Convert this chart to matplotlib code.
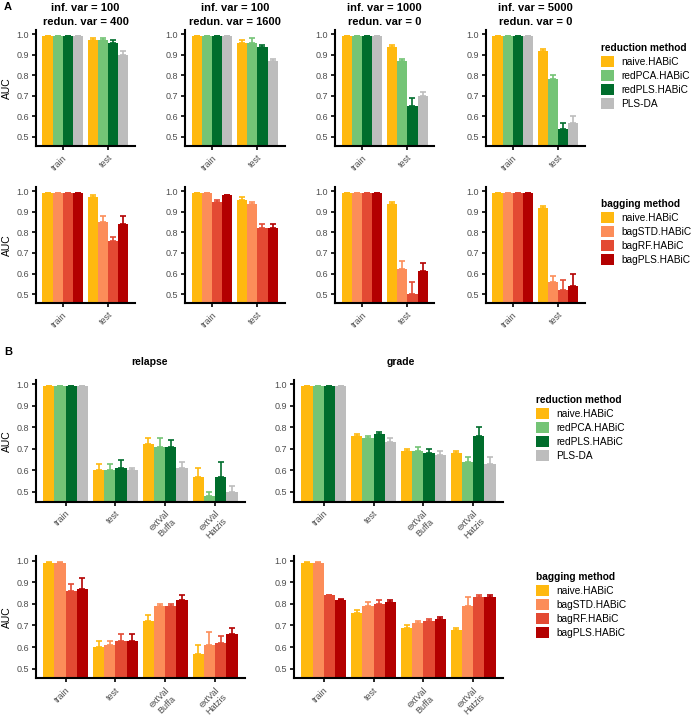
import numpy as np
import matplotlib
matplotlib.use('Agg')
import matplotlib.pyplot as plt
from matplotlib.patches import Patch

plt.rcParams['font.family'] = ['Liberation Sans', 'DejaVu Sans']

# ---- data ----
red_methods = ['naive.HABiC', 'redPCA.HABiC', 'redPLS.HABiC', 'PLS-DA']
bag_methods = ['naive.HABiC', 'bagSTD.HABiC', 'bagRF.HABiC', 'bagPLS.HABiC']
red_colors = ['#FFB90F', '#74C476', '#006D2C', '#BDBDBD']
bag_colors = ['#FFB90F', '#FC8D59', '#E34A33', '#B30000']

sim_titles = ['inf. var = 100\nredun. var = 400', 'inf. var = 100\nredun. var = 1600',
              'inf. var = 1000\nredun. var = 0', 'inf. var = 5000\nredun. var = 0']
sim_splits = ['train', 'test']
real_splits = ['train', 'test', 'extVal\nBuffa', 'extVal\nHatzis']

# simulation, reduction methods: [sim][method][split]
sim_red_auc = [
    [[0.99, 0.97], [0.99, 0.97], [0.99, 0.96], [0.99, 0.90]],
    [[0.99, 0.96], [0.99, 0.96], [0.99, 0.94], [0.99, 0.87]],
    [[0.99, 0.94], [0.99, 0.87], [0.99, 0.65], [0.99, 0.70]],
    [[0.99, 0.92], [0.99, 0.78], [0.99, 0.54], [0.99, 0.57]],
]
sim_red_err = [
    [[0.003, 0.01], [0.003, 0.01], [0.003, 0.01], [0.003, 0.02]],
    [[0.003, 0.01], [0.003, 0.02], [0.003, 0.01], [0.003, 0.01]],
    [[0.003, 0.01], [0.003, 0.01], [0.003, 0.04], [0.003, 0.02]],
    [[0.003, 0.01], [0.003, 0.02], [0.003, 0.03], [0.003, 0.03]],
]
# simulation, bagging methods
sim_bag_auc = [
    [[0.99, 0.97], [0.99, 0.85], [0.99, 0.76], [0.99, 0.84]],
    [[0.99, 0.96], [0.99, 0.94], [0.95, 0.82], [0.98, 0.82]],
    [[0.99, 0.94], [0.99, 0.62], [0.99, 0.50], [0.99, 0.61]],
    [[0.99, 0.92], [0.99, 0.56], [0.99, 0.52], [0.99, 0.54]],
]
sim_bag_err = [
    [[0.003, 0.01], [0.003, 0.03], [0.003, 0.02], [0.003, 0.04]],
    [[0.003, 0.01], [0.003, 0.01], [0.01, 0.02], [0.003, 0.02]],
    [[0.003, 0.01], [0.003, 0.04], [0.003, 0.06], [0.003, 0.04]],
    [[0.003, 0.01], [0.003, 0.03], [0.003, 0.05], [0.003, 0.06]],
]

# real data: [method][split]
relapse_red_auc = [[0.99, 0.60, 0.72, 0.57], [0.99, 0.60, 0.71, 0.48],
                   [0.99, 0.61, 0.71, 0.57], [0.99, 0.60, 0.61, 0.50]]
relapse_red_err = [[0.003, 0.03, 0.03, 0.04], [0.003, 0.03, 0.04, 0.02],
                   [0.003, 0.04, 0.03, 0.07], [0.003, 0.01, 0.03, 0.03]]
grade_red_auc = [[0.99, 0.76, 0.69, 0.68], [0.99, 0.75, 0.69, 0.64],
                 [0.99, 0.77, 0.68, 0.76], [0.99, 0.73, 0.67, 0.63]]
grade_red_err = [[0.003, 0.01, 0.01, 0.01], [0.003, 0.01, 0.02, 0.02],
                 [0.003, 0.01, 0.02, 0.04], [0.003, 0.02, 0.02, 0.03]]
relapse_bag_auc = [[0.99, 0.60, 0.72, 0.57], [0.99, 0.61, 0.79, 0.61],
                   [0.86, 0.63, 0.79, 0.62], [0.87, 0.63, 0.82, 0.66]]
relapse_bag_err = [[0.003, 0.03, 0.03, 0.04], [0.003, 0.02, 0.01, 0.06],
                   [0.03, 0.03, 0.01, 0.03], [0.05, 0.03, 0.02, 0.03]]
grade_bag_auc = [[0.99, 0.76, 0.69, 0.68], [0.99, 0.79, 0.71, 0.79],
                 [0.84, 0.80, 0.72, 0.83], [0.82, 0.81, 0.73, 0.83]]
grade_bag_err = [[0.003, 0.01, 0.01, 0.01], [0.003, 0.02, 0.01, 0.04],
                 [0.003, 0.02, 0.01, 0.01], [0.003, 0.01, 0.01, 0.01]]

W, H = 691, 720
fig = plt.figure(figsize=(W / 100, H / 100), dpi=100)
YLIM = (0.455, 1.02)


def add_ax(left, top, right, bottom):
    return fig.add_axes([left / W, 1 - bottom / H, (right - left) / W, (bottom - top) / H])


def bar_panel(ax, auc, err, colors, splits, ylabel=False):
    auc = np.array(auc)
    err = np.array(err)
    n = len(colors)
    x = np.arange(1, len(splits) + 1)
    bw = 0.9 / n
    for i in range(n):
        pos = x - 0.45 + bw * (i + 0.5)
        ax.bar(pos, auc[i], width=bw, color=colors[i], linewidth=0)
        ax.errorbar(pos, auc[i], yerr=[np.zeros(len(splits)), err[i]], fmt='none',
                    ecolor=colors[i], elinewidth=1.2, capsize=2, capthick=1.2)
    ax.set_xlim(0.4, len(splits) + 0.6)
    ax.set_ylim(*YLIM)
    ax.set_yticks([0.5, 0.6, 0.7, 0.8, 0.9, 1.0])
    ax.set_yticklabels(['0.5', '0.6', '0.7', '0.8', '0.9', '1.0'])
    ax.set_xticks(x)
    ax.set_xticklabels(splits, rotation=45, ha='right', rotation_mode='anchor',
                       multialignment='center')
    ax.tick_params(axis='both', labelsize=6.5, labelcolor='#4D4D4D', color='black',
                   width=1.2, length=3, pad=2)
    for s in ['top', 'right']:
        ax.spines[s].set_visible(False)
    for s in ['left', 'bottom']:
        ax.spines[s].set_linewidth(1.5)
    if ylabel:
        ax.set_ylabel('AUC', fontsize=7.5, labelpad=3)


def add_legend(x, y, title, labels, colors):
    handles = [Patch(facecolor=c, edgecolor='none') for c in colors]
    leg = fig.legend(handles, labels, loc='upper left', bbox_to_anchor=(x / W, 1 - y / H),
                     bbox_transform=fig.transFigure, frameon=False, fontsize=7.3,
                     title=title, title_fontproperties={'weight': 'bold', 'size': 7.3},
                     handlelength=1.3, handleheight=1.3, labelspacing=0.3,
                     handletextpad=0.7, borderaxespad=0, borderpad=0)
    leg._legend_box.align = 'left'


# ---- panel A ----
col_left = [35.7, 185, 335, 485.7]
for j in range(4):
    ax = add_ax(col_left[j], 30.2, col_left[j] + 99.5, 146.2)
    bar_panel(ax, sim_red_auc[j], sim_red_err[j], red_colors, sim_splits, ylabel=(j == 0))
    ax.set_title(sim_titles[j], fontsize=8, fontweight='bold', pad=4, linespacing=1.45)
    ax = add_ax(col_left[j], 187.2, col_left[j] + 99.5, 303.3)
    bar_panel(ax, sim_bag_auc[j], sim_bag_err[j], bag_colors, sim_splits, ylabel=(j == 0))

add_legend(601, 43, 'reduction method', red_methods, red_colors)
add_legend(601, 199, 'bagging method', bag_methods, bag_colors)

# ---- panel B ----
ax = add_ax(35.7, 379.7, 245, 501.7)
bar_panel(ax, relapse_red_auc, relapse_red_err, red_colors, real_splits, ylabel=True)
ax = add_ax(294, 379.7, 503, 501.7)
bar_panel(ax, grade_red_auc, grade_red_err, red_colors, real_splits)
ax = add_ax(35.7, 556.4, 245, 678.4)
bar_panel(ax, relapse_bag_auc, relapse_bag_err, bag_colors, real_splits, ylabel=True)
ax = add_ax(294, 556.4, 503, 678.4)
bar_panel(ax, grade_bag_auc, grade_bag_err, bag_colors, real_splits)

add_legend(536, 395, 'reduction method', red_methods, red_colors)
add_legend(536, 572, 'bagging method', bag_methods, bag_colors)

fig.text(150 / W, 1 - 362 / H, 'relapse', ha='center', va='center', fontsize=7.5, fontweight='bold')
fig.text(401 / W, 1 - 362 / H, 'grade', ha='center', va='center', fontsize=7.5, fontweight='bold')
fig.text(4 / W, 1 - 7 / H, 'A', ha='left', va='center', fontsize=8, fontweight='bold')
fig.text(4 / W, 1 - 352 / H, 'B', ha='left', va='center', fontsize=8, fontweight='bold')

fig.savefig('out.png', dpi=100)
